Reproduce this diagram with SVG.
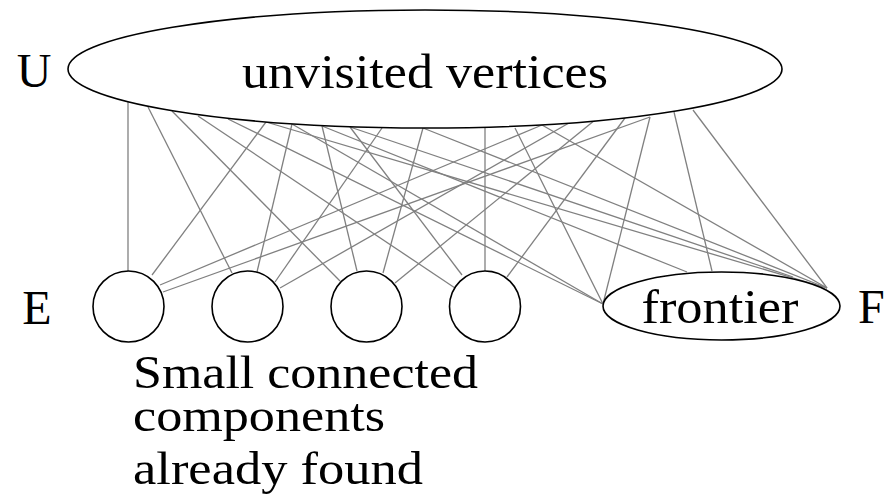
<svg xmlns="http://www.w3.org/2000/svg" width="884" height="496" viewBox="0 0 884 496">
  <style>
    .edge { stroke: #808080; stroke-width: 1.3; fill: none; }
    .node { fill: #ffffff; stroke: #000000; stroke-width: 1.6; }
    .lbl { font-family: "Liberation Serif", "DejaVu Serif", serif; font-size: 48px; fill: #000000; }
    .cap { font-family: "Liberation Serif", "DejaVu Serif", serif; font-size: 46px; fill: #000000; }
  </style>
  <rect width="884" height="496" fill="#ffffff"/>
  <g id="edges">
    <line class="edge" x1="128" y1="102" x2="128" y2="271"/>
    <line class="edge" x1="148" y1="107" x2="232" y2="273"/>
    <line class="edge" x1="172" y1="111" x2="340" y2="281"/>
    <line class="edge" x1="198" y1="116" x2="455" y2="288"/>
    <line class="edge" x1="228" y1="119" x2="603" y2="304"/>
    <line class="edge" x1="266" y1="122" x2="152" y2="275"/>
    <line class="edge" x1="266" y1="122" x2="827" y2="288"/>
    <line class="edge" x1="292" y1="124" x2="257" y2="272"/>
    <line class="edge" x1="292" y1="124" x2="603" y2="304"/>
    <line class="edge" x1="322" y1="126" x2="357" y2="271"/>
    <line class="edge" x1="322" y1="126" x2="687" y2="272"/>
    <line class="edge" x1="350" y1="127" x2="462" y2="275"/>
    <line class="edge" x1="350" y1="127" x2="793" y2="277"/>
    <line class="edge" x1="382" y1="128" x2="275" y2="282"/>
    <line class="edge" x1="423" y1="128" x2="383" y2="273"/>
    <line class="edge" x1="423" y1="128" x2="827" y2="288"/>
    <line class="edge" x1="485" y1="128" x2="485" y2="271"/>
    <line class="edge" x1="515" y1="128" x2="603" y2="304"/>
    <line class="edge" x1="542" y1="125" x2="160" y2="285"/>
    <line class="edge" x1="542" y1="125" x2="827" y2="288"/>
    <line class="edge" x1="569" y1="123" x2="280" y2="288"/>
    <line class="edge" x1="595" y1="120" x2="395" y2="283"/>
    <line class="edge" x1="625" y1="118" x2="507" y2="277"/>
    <line class="edge" x1="650" y1="117" x2="603" y2="304"/>
    <line class="edge" x1="650" y1="117" x2="163" y2="292"/>
    <line class="edge" x1="674" y1="112" x2="712" y2="271"/>
    <line class="edge" x1="693" y1="110" x2="827" y2="288"/>
  </g>
  <g id="U">
    <ellipse class="node" cx="425" cy="69" rx="357" ry="59"/>
    <text class="lbl" x="425" y="88" text-anchor="middle" textLength="366" lengthAdjust="spacingAndGlyphs">unvisited vertices</text>
    <text class="lbl" x="34" y="87" text-anchor="middle">U</text>
  </g>
  <g id="c1"><circle class="node" cx="128.5" cy="306.5" r="35.5"/></g>
  <g id="c2"><circle class="node" cx="247.5" cy="306.5" r="35.5"/></g>
  <g id="c3"><circle class="node" cx="366.5" cy="306.5" r="35.5"/></g>
  <g id="c4"><circle class="node" cx="485" cy="306.5" r="35.5"/></g>
  <g id="E"><text class="lbl" x="37" y="324" text-anchor="middle">E</text></g>
  <g id="F">
    <ellipse class="node" cx="721.5" cy="306" rx="118.5" ry="34"/>
    <text class="lbl" x="720" y="323" text-anchor="middle" textLength="157" lengthAdjust="spacingAndGlyphs">frontier</text>
    <text class="lbl" x="858" y="323">F</text>
  </g>
  <g id="caption">
    <text class="cap" x="133" y="388" textLength="345" lengthAdjust="spacingAndGlyphs">Small connected</text>
    <text class="cap" x="133" y="431" textLength="252" lengthAdjust="spacingAndGlyphs">components</text>
    <text class="cap" x="133" y="484" textLength="290" lengthAdjust="spacingAndGlyphs">already found</text>
  </g>
</svg>
